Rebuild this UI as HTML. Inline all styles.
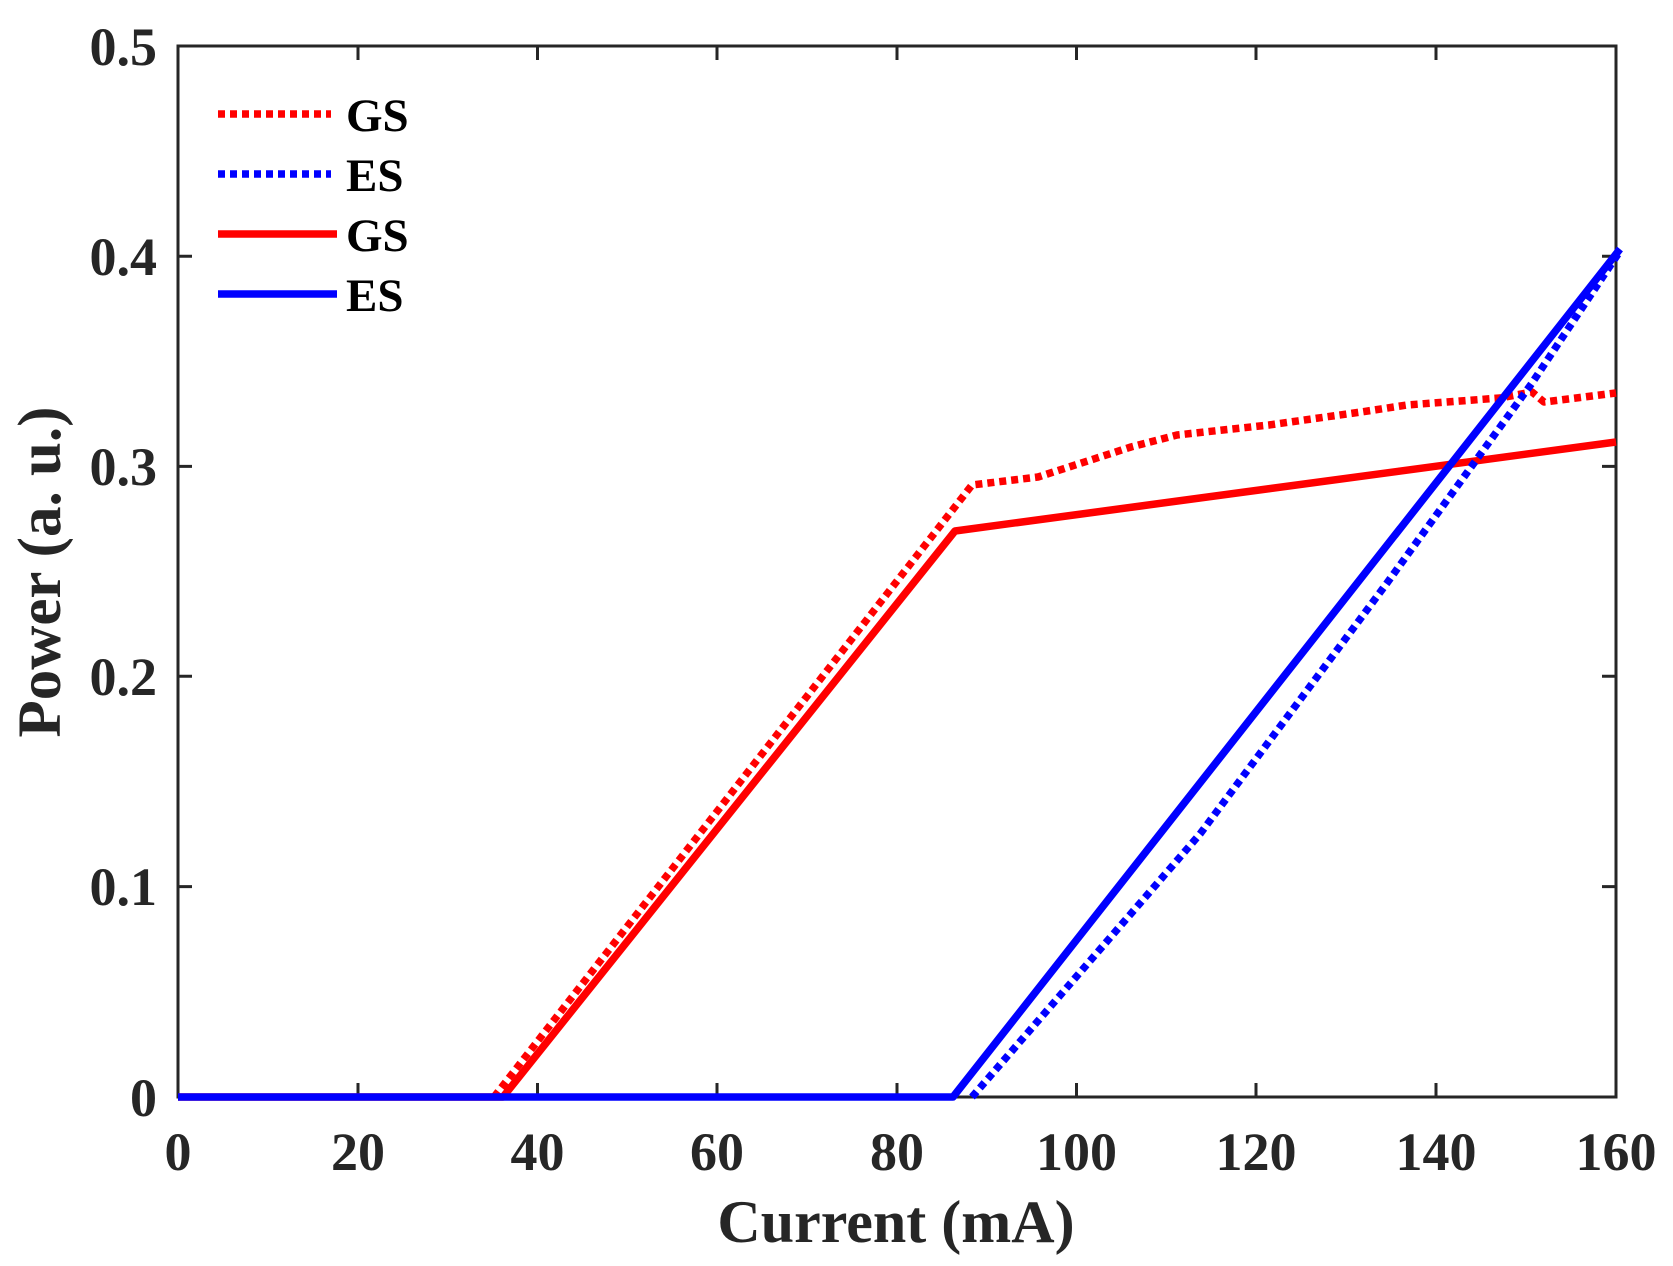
<!DOCTYPE html>
<html><head><meta charset="utf-8"><style>
html,body{margin:0;padding:0;background:#fff}
svg{display:block}
text{font-family:"Liberation Serif",serif;font-weight:bold;fill:#262626}
</style></head><body>
<svg width="1673" height="1266" viewBox="0 0 1673 1266" xmlns="http://www.w3.org/2000/svg">
<rect width="1673" height="1266" fill="#fff"/>
<g stroke="#262626" stroke-width="3" fill="none">
<rect x="178" y="46" width="1438" height="1051"/>
<path d="M358 1097v-14M537.5 1097v-14M717 1097v-14M897 1097v-14M1076.5 1097v-14M1256 1097v-14M1436 1097v-14
M358 46v14M537.5 46v14M717 46v14M897 46v14M1076.5 46v14M1256 46v14M1436 46v14
M178 886.6h14M178 676.2h14M178 466.4h14M178 256.2h14
M1616 886.6h-14M1616 676.2h-14M1616 466.4h-14M1616 256.2h-14"/>
</g>
<g fill="none" stroke-width="7.5" stroke-linejoin="round">
<polyline stroke="#ff0000" points="178,1097 503,1097 955,531 1616,442"/>
<polyline stroke="#ff0000" stroke-dasharray="7 5" points="494,1097 972,485 1038,477 1131,447 1177,435 1269,425 1361,412 1407,405 1500,398 1532,392 1544,402 1616,393"/>
<polyline stroke="#0000ff" points="178,1097 953,1097 1620,249"/>
<polyline stroke="#0000ff" stroke-dasharray="7 5" points="972,1097 1200,834 1387,583 1532,383 1620,251"/>
</g>
<g stroke-width="7.5">
<line x1="218" y1="114" x2="331" y2="114" stroke="#ff0000" stroke-dasharray="7 5"/>
<line x1="218" y1="174" x2="331" y2="174" stroke="#0000ff" stroke-dasharray="7 5"/>
<line x1="218" y1="234" x2="337" y2="234" stroke="#ff0000"/>
<line x1="218" y1="294" x2="337" y2="294" stroke="#0000ff"/>
</g>
<g font-size="47">
<text x="346" y="131" style="fill:#000">GS</text>
<text x="346" y="191" style="fill:#000">ES</text>
<text x="346" y="251" style="fill:#000">GS</text>
<text x="346" y="311" style="fill:#000">ES</text>
</g>
<g font-size="54" text-anchor="end">
<text x="157" y="1116">0</text>
<text x="157" y="905">0.1</text>
<text x="157" y="695">0.2</text>
<text x="157" y="485">0.3</text>
<text x="157" y="275">0.4</text>
<text x="157" y="65">0.5</text>
</g>
<g font-size="54" text-anchor="middle">
<text x="178" y="1170">0</text>
<text x="358" y="1170">20</text>
<text x="537.5" y="1170">40</text>
<text x="717" y="1170">60</text>
<text x="897" y="1170">80</text>
<text x="1076.5" y="1170">100</text>
<text x="1256" y="1170">120</text>
<text x="1436" y="1170">140</text>
<text x="1616" y="1170">160</text>
</g>
<text x="896" y="1242" font-size="60" text-anchor="middle">Current (mA)</text>
<text transform="translate(60,572) rotate(-90)" font-size="61" text-anchor="middle">Power (a. u.)</text>
</svg>
</body></html>
